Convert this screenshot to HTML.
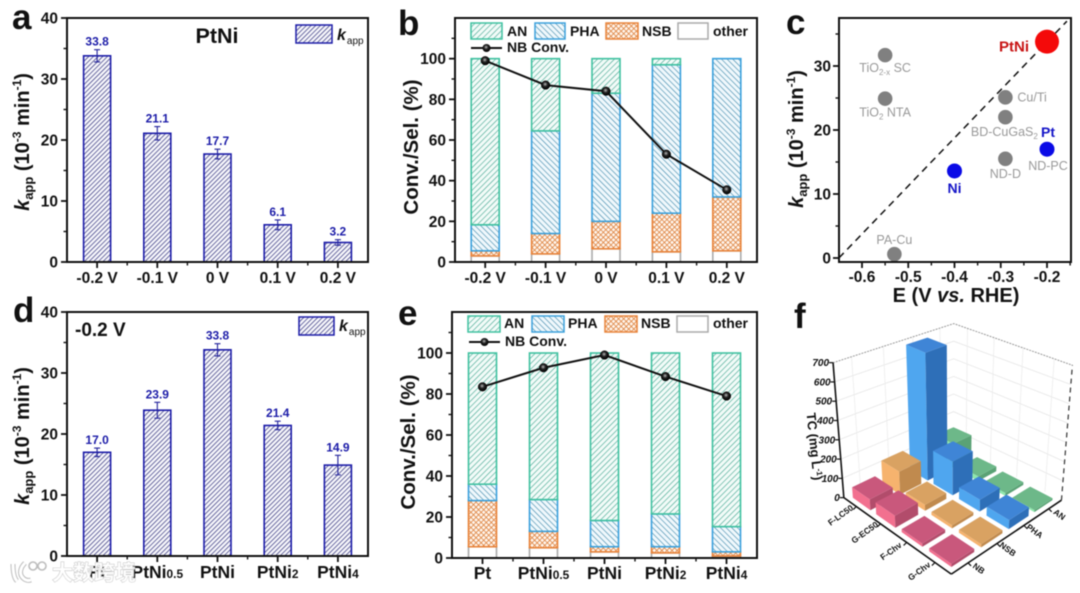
<!DOCTYPE html>
<html lang="en">
<head>
<meta charset="utf-8">
<title>PtNi catalyst performance panels</title>
<style>
html,body{margin:0;padding:0;background:#fff;width:1080px;height:593px;overflow:hidden}
svg{display:block;filter:blur(.45px);font-family:"Liberation Sans","Noto Sans CJK SC",sans-serif}
text{font-weight:bold;fill:#111}
</style>
</head>
<body>
<svg id="figure" xmlns="http://www.w3.org/2000/svg" width="1080" height="593" viewBox="0 0 1080 593">
<defs>
<pattern id="hatch-kapp" patternUnits="userSpaceOnUse" width="3.3" height="3.3" patternTransform="rotate(45)"><rect width="3.3" height="3.3" fill="#f6f6fb"/><line x1="0" y1="0" x2="0" y2="3.3" stroke="#33337c" stroke-width="1.4"/></pattern>
<pattern id="hatch-an" patternUnits="userSpaceOnUse" width="4" height="4" patternTransform="rotate(45)"><rect width="4" height="4" fill="#f2fbf8"/><line x1="0" y1="0" x2="0" y2="4" stroke="#3fa48e" stroke-width="1.2"/></pattern>
<pattern id="hatch-pha" patternUnits="userSpaceOnUse" width="4" height="4" patternTransform="rotate(-45)"><rect width="4" height="4" fill="#f0f8fc"/><line x1="0" y1="0" x2="0" y2="4" stroke="#3a85a8" stroke-width="1.2"/></pattern>
<pattern id="hatch-nsb" patternUnits="userSpaceOnUse" width="3.6" height="3.6" patternTransform="rotate(45)"><rect width="3.6" height="3.6" fill="#fff6ee"/><path d="M0 0V3.6M0 0H3.6" stroke="#dd8340" stroke-width="1.6"/></pattern>
<radialGradient id="marker-shine" cx="45%" cy="40%" r="60%"><stop offset="0" stop-color="#bbb"/><stop offset=".45" stop-color="#222"/><stop offset="1" stop-color="#000"/></radialGradient>
</defs>

<g>
<text x="12" y="29" style="font-size:35px">a</text>
<text x="398" y="35" style="font-size:35px">b</text>
<text x="786" y="34" style="font-size:35px">c</text>
<text x="13" y="322" style="font-size:35px">d</text>
<text x="398" y="325" style="font-size:35px">e</text>
<text x="794" y="328" style="font-size:35px">f</text>
</g>

<text transform="translate(29,142) rotate(-90)" text-anchor="middle" style="font-size:20px"><tspan font-style="italic">k</tspan><tspan font-size="13" dy="4">app</tspan><tspan dy="-4"> (10</tspan><tspan font-size="12" dy="-8">-3</tspan><tspan dy="8"> min</tspan><tspan font-size="12" dy="-8">-1</tspan><tspan dy="8">)</tspan></text>
<text x="217" y="43" text-anchor="middle" style="font-size:21.5px">PtNi</text>
<rect x="296" y="25" width="36" height="18" fill="url(#hatch-kapp)" stroke="#1c1ca8" stroke-width="1.5"/>
<text x="337" y="40" style="font-size:16px"><tspan font-style="italic">k</tspan><tspan font-size="10" dy="4" dx="1" style="font-weight:normal">app</tspan></text>

<text transform="translate(29,436) rotate(-90)" text-anchor="middle" style="font-size:20px"><tspan font-style="italic">k</tspan><tspan font-size="13" dy="4">app</tspan><tspan dy="-4"> (10</tspan><tspan font-size="12" dy="-8">-3</tspan><tspan dy="8"> min</tspan><tspan font-size="12" dy="-8">-1</tspan><tspan dy="8">)</tspan></text>
<text x="75" y="336" style="font-size:19px">-0.2 V</text>
<rect x="299" y="317" width="35" height="18" fill="url(#hatch-kapp)" stroke="#1c1ca8" stroke-width="1.5"/>
<text x="339" y="331" style="font-size:16px"><tspan font-style="italic">k</tspan><tspan font-size="10" dy="4" dx="1" style="font-weight:normal">app</tspan></text>

<text transform="translate(418,147) rotate(-90)" text-anchor="middle" style="font-size:20.5px">Conv./Sel. (%)</text>
<text transform="translate(415,442) rotate(-90)" text-anchor="middle" style="font-size:20.5px">Conv./Sel. (%)</text>

<g style="font-size:14px">
<rect x="471" y="23" width="31" height="16" fill="url(#hatch-an)" stroke="#3fc1a0" stroke-width="1.5"/>
<text x="507" y="36">AN</text>
<rect x="535" y="23" width="30" height="16" fill="url(#hatch-pha)" stroke="#3aa0dc" stroke-width="1.5"/>
<text x="570" y="36">PHA</text>
<rect x="606" y="23" width="32" height="16" fill="url(#hatch-nsb)" stroke="#e8833a" stroke-width="1.5"/>
<text x="642" y="36">NSB</text>
<rect x="678" y="23" width="30" height="16" fill="#fff" stroke="#aaa" stroke-width="1.5"/>
<text x="713" y="36">other</text>
<line x1="471" y1="48" x2="502" y2="48" stroke="#111" stroke-width="2"/>
<circle cx="486.5" cy="48" r="4" fill="url(#marker-shine)"/>
<text x="507" y="52">NB Conv.</text>
</g>

<g style="font-size:14px">
<rect x="468" y="316" width="32" height="16" fill="url(#hatch-an)" stroke="#3fc1a0" stroke-width="1.5"/>
<text x="504" y="328">AN</text>
<rect x="532" y="316" width="32" height="16" fill="url(#hatch-pha)" stroke="#3aa0dc" stroke-width="1.5"/>
<text x="568" y="328">PHA</text>
<rect x="605" y="316" width="32" height="16" fill="url(#hatch-nsb)" stroke="#e8833a" stroke-width="1.5"/>
<text x="641" y="328">NSB</text>
<rect x="677" y="316" width="31" height="16" fill="#fff" stroke="#aaa" stroke-width="1.5"/>
<text x="713" y="328">other</text>
<line x1="469" y1="342" x2="500" y2="342" stroke="#111" stroke-width="2"/>
<circle cx="484.5" cy="342" r="4" fill="url(#marker-shine)"/>
<text x="505" y="346">NB Conv.</text>
</g>

<text transform="translate(803,139) rotate(-90)" text-anchor="middle" style="font-size:20px"><tspan font-style="italic">k</tspan><tspan font-size="13" dy="4">app</tspan><tspan dy="-4"> (10</tspan><tspan font-size="12" dy="-8">-3</tspan><tspan dy="8"> min</tspan><tspan font-size="12" dy="-8">-1</tspan><tspan dy="8">)</tspan></text>
<text x="956" y="302" text-anchor="middle" style="font-size:20px">E (V <tspan font-style="italic">vs.</tspan> RHE)</text>

<text transform="translate(810,447) rotate(84)" text-anchor="middle" style="font-size:13px">TC (mg L<tspan font-size="8" dy="-4">-1</tspan><tspan dy="4">)</tspan></text>

<g id="charts"></g>

<g>
<path d="M13 564c0 8 1 14 4 17M25 563c-5 5-6 11-2 15 2 2 5 3 8 2" fill="none" stroke="#bdbdbd" stroke-width="5"/>
<path d="M13 564c0 8 1 14 4 17M25 563c-5 5-6 11-2 15 2 2 5 3 8 2" fill="none" stroke="#fff" stroke-width="3"/>
<circle cx="33" cy="566" r="4" fill="#fff" stroke="#bdbdbd" stroke-width="1.6"/>
<circle cx="42" cy="566" r="4" fill="#fff" stroke="#bdbdbd" stroke-width="1.6"/>
<text x="52" y="580" style="font-size:21px;font-weight:bold;fill:#fff;fill-opacity:.85;stroke:#c4c4c4;stroke-width:.9;paint-order:stroke">大数跨境</text>
</g>
</svg>

<script>
/* ---------- chart data ---------- */
const aCategories = ['-0.2 V', '-0.1 V', '0 V', '0.1 V', '0.2 V'];
const aValues = [33.8, 21.1, 17.7, 6.1, 3.2];
const aErrors = [1.0, 1.1, 0.8, 0.8, 0.45];
const dCategories = ['Pt', 'PtNi0.5', 'PtNi', 'PtNi2', 'PtNi4'];
const dValues = [17.0, 23.9, 33.8, 21.4, 14.9];
const dErrors = [0.7, 1.3, 1.0, 0.7, 1.6];
const kappTicks = [0, 10, 20, 30, 40];
const kappMinorTicks = [5, 15, 25, 35];

const bCategories = ['-0.2 V', '-0.1 V', '0 V', '0.1 V', '0.2 V'];
const bOther = [3, 4, 6.5, 5, 5.5];
const bNSB = [2.5, 10, 13.5, 19, 26.5];
const bPHA = [12.8, 50.5, 63, 73, 68];
const bAN = [81.7, 35.5, 17, 3, 0];
const bConv = [99, 87, 84, 53, 35.5];

const eCategories = ['Pt', 'PtNi0.5', 'PtNi', 'PtNi2', 'PtNi4'];
const eOther = [5.5, 5, 3, 2.5, 1];
const eNSB = [22.5, 8, 2.5, 3, 2];
const ePHA = [8, 15.5, 12.8, 16, 12.3];
const eAN = [64, 71.5, 81.7, 78.5, 84.7];
const eConv = [83.5, 92.8, 99, 88.5, 79];
const selTicks = [0, 20, 40, 60, 80, 100];
const selMinorTicks = [10, 30, 50, 70, 90, 110];

const cNames = ['TiO2-x SC', 'TiO2 NTA', 'Cu/Ti', 'BD-CuGaS2', 'ND-D', 'PA-Cu', 'ND-PC', 'Ni', 'PtNi'];
const cPotential = [-0.55, -0.55, -0.29, -0.29, -0.29, -0.53, -0.2, -0.4, -0.2];
const cRate = [31.7, 24.9, 25.1, 22, 15.5, 0.6, 17, 13.6, 33.8];
const cXTicks = [-0.6, -0.5, -0.4, -0.3, -0.2];
const cXMinorTicks = [-0.55, -0.45, -0.35, -0.25, -0.15];
const cYTicks = [0, 10, 20, 30];
const cYMinorTicks = [5, 15, 25, 35];
const cTrendE = [-0.65, -0.157];
const cTrendK = [0, 37];

const fCategories = ['G-Chv', 'F-Chv', 'G-EC50', 'F-LC50'];
const fSeries = ['NB', 'NSB', 'PHA', 'AN'];
const fNB = [15, 15, 60, 55];
const fNSB = [15, 15, 30, 120];
const fPHA = [45, 60, 175, 680];
const fAN = [10, 15, 25, 130];
const fZTicks = [0, 100, 200, 300, 400, 500, 600, 700];

/* ---------- helpers ---------- */
const NS = 'http://www.w3.org/2000/svg';
const root = document.getElementById('charts');
function mk(tag, attrs, parent, txt) {
  const n = document.createElementNS(NS, tag);
  for (const k in attrs) n.setAttribute(k, attrs[k]);
  if (txt !== undefined) n.textContent = txt;
  (parent || root).appendChild(n);
  return n;
}
function linear(d0, d1, r0, r1) { return v => r0 + (v - d0) / (d1 - d0) * (r1 - r0); }
function catLabel(parent, text, x, y, size, name) {
  const t = mk('text', { x: x, y: y, 'text-anchor': 'middle', style: 'font-size:' + size + 'px' }, parent);
  
  
  const m = text.match(/^(PtNi)([\d.]+)$/);
  if (m) {
    t.appendChild(document.createTextNode(m[1]));
    mk('tspan', { 'font-size': size * 0.68 }, t, m[2]);
  } else {
    t.textContent = text;
  }
}
function tick(parent, x1, y1, x2, y2, w, name) {
  const l = mk('line', { x1: x1, y1: y1, x2: x2, y2: y2, stroke: '#111', 'stroke-width': w }, parent);
  
  
}
/* frame + ticks for a category panel */
function catAxes(id, box, yS, yTicks, yMinor, cats, xAt, labelSize, labelY) {
  const g = mk('g', {});
  
  
  const frame = mk('rect', { x: box.l, y: box.t, width: box.r - box.l, height: box.b - box.t, fill: 'none', stroke: '#111', 'stroke-width': 2 }, g);
  
  
  yTicks.forEach(v => {
    tick(g, box.l - 6, yS(v), box.l, yS(v), 1.8, id + '-y-tick');
    const t = mk('text', { x: box.l - 9, y: yS(v) + 5.5, 'text-anchor': 'end', style: 'font-size:15.5px' }, g, String(v));
    
    
  });
  yMinor.forEach(v => tick(g, box.l - 3.5, yS(v), box.l, yS(v), 1.4, id + '-y-minor-tick'));
  cats.forEach((c, i) => {
    tick(g, xAt(i), box.b, xAt(i), box.b + 6, 1.8, id + '-x-tick');
    if (i < cats.length - 1) tick(g, xAt(i + 0.5), box.b, xAt(i + 0.5), box.b + 3.5, 1.4, id + '-x-minor-tick');
    catLabel(g, c, xAt(i), labelY, labelSize, id + '-x-tick-label');
  });
}
/* ---------- bar panels a, d ---------- */
function drawKapp(id, box, cats, vals, errs, labelSize, labelY) {
  const yS = linear(0, 40, box.b, box.t);
  const step = (box.r - box.l) / cats.length;
  const xAt = i => box.l + (i + 0.5) * step;
  const g = mk('g', {});
  
  
  vals.forEach((v, i) => {
    const bar = mk('rect', { x: xAt(i) - 13.5, y: yS(v), width: 27, height: yS(0) - yS(v), fill: 'url(#hatch-kapp)', stroke: '#1c1ca8', 'stroke-width': 1.6 }, g);
    
    
    const e = errs[i];
    const err = mk('path', { d: 'M' + (xAt(i) - 3) + ' ' + yS(v + e) + 'h6M' + xAt(i) + ' ' + yS(v + e) + 'V' + yS(v - e) + 'M' + (xAt(i) - 3) + ' ' + yS(v - e) + 'h6', fill: 'none', stroke: '#23239c', 'stroke-width': 1.1 }, g);
    
    
    const lab = mk('text', { x: xAt(i), y: yS(v + e) - 4, 'text-anchor': 'middle', style: 'font-size:12px;fill:#1c1ca8' }, g, v.toFixed(1));
    
    
  });
  catAxes(id, box, yS, kappTicks, kappMinorTicks, cats, xAt, labelSize, labelY);
}
/* ---------- stacked panels b, e ---------- */
function drawStack(id, box, cats, other, nsb, pha, an, conv, labelSize, labelY) {
  const yS = linear(0, 120, box.b, box.t);
  const step = (box.r - box.l) / cats.length;
  const xAt = i => box.l + (i + 0.5) * step;
  const g = mk('g', {});
  
  
  const layers = [
    { key: 'other', vals: other, fill: '#fff', stroke: '#aaa' },
    { key: 'nsb', vals: nsb, fill: 'url(#hatch-nsb)', stroke: '#e8833a' },
    { key: 'pha', vals: pha, fill: 'url(#hatch-pha)', stroke: '#3aa0dc' },
    { key: 'an', vals: an, fill: 'url(#hatch-an)', stroke: '#3fc1a0' }
  ];
  cats.forEach((c, i) => {
    let base = 0;
    layers.forEach(L => {
      const v = L.vals[i];
      if (v > 0) {
        const r = mk('rect', { x: xAt(i) - 14, y: yS(base + v), width: 28, height: yS(base) - yS(base + v), fill: L.fill, stroke: L.stroke, 'stroke-width': 1.6 }, g);
        
        
      }
      base += v;
    });
  });
  catAxes(id, box, yS, selTicks, selMinorTicks, cats, xAt, labelSize, labelY);
  const line = mk('polyline', { points: conv.map((v, i) => xAt(i) + ',' + yS(v)).join(' '), fill: 'none', stroke: '#111', 'stroke-width': 2 });
  
  
  conv.forEach((v, i) => {
    const m = mk('circle', { cx: xAt(i), cy: yS(v), r: 4.3, fill: 'url(#marker-shine)', stroke: '#000', 'stroke-width': 0.5 });
    
    
  });
}
/* ---------- scatter panel c ---------- */
function drawScatter() {
  const box = { l: 839, r: 1071, t: 18, b: 262 };
  const xS = linear(-0.6, -0.2, 862, 1047);
  const yS = linear(0, 30, 258, 66);
  const g = mk('g', {});
  
  
  const trend = mk('line', { x1: xS(cTrendE[0]), y1: yS(cTrendK[0]), x2: xS(cTrendE[1]), y2: yS(cTrendK[1]), stroke: '#111', 'stroke-width': 1.5, 'stroke-dasharray': '7 5' }, g);
  
  
  const style = {
    'Ni': { fill: '#0a0ae6', r: 7.5, text: '#1616c8', bold: 1, size: 14, dx: 0, dy: 22, anchor: 'middle' },
    'PtNi': { fill: '#f40a0a', r: 12, text: '#c81414', bold: 1, size: 15, dx: -18, dy: 10, anchor: 'end' },
    'ND-PC': { fill: '#0a0ae6', r: 7.5, text: '#999', size: 12.5, dx: 1, dy: 21, anchor: 'middle' },
    'TiO2-x SC': { dx: 0, dy: 17, anchor: 'middle' },
    'TiO2 NTA': { dx: 0, dy: 18, anchor: 'middle' },
    'Cu/Ti': { dx: 12, dy: 4, anchor: 'start' },
    'BD-CuGaS2': { dx: -1, dy: 19, anchor: 'middle' },
    'ND-D': { dx: 0, dy: 19, anchor: 'middle' },
    'PA-Cu': { dx: 0, dy: -10, anchor: 'middle' }
  };
  cNames.forEach((n, i) => {
    const s = style[n];
    const cx = xS(cPotential[i]), cy = yS(cRate[i]);
    const dot = mk('circle', { cx: cx, cy: cy, r: s.r || 7.3, fill: s.fill || '#808080' }, g);
    
    
    const t = mk('text', { x: cx + s.dx, y: cy + s.dy, 'text-anchor': s.anchor, style: 'font-size:' + (s.size || 12.5) + 'px;font-weight:' + (s.bold ? 'bold' : 'normal') + ';fill:' + (s.text || '#999') }, g);
    
    
    const m = n.match(/^(TiO|BD-CuGaS)(2(?:-x)?)(.*)$/);
    if (m) {
      t.appendChild(document.createTextNode(m[1]));
      mk('tspan', { 'font-size': 8, dy: 3 }, t, m[2]);
      mk('tspan', { dy: -3 }, t, m[3] || '\u200b');
    } else {
      t.textContent = n;
    }
    if (n === 'ND-PC') {
      const pt = mk('text', { x: cx + 1, y: cy - 12, 'text-anchor': 'middle', style: 'font-size:14px;fill:#1616c8' }, g, 'Pt');
      
      
    }
  });
  const frame = mk('rect', { x: box.l, y: box.t, width: box.r - box.l, height: box.b - box.t, fill: 'none', stroke: '#111', 'stroke-width': 2 }, g);
  
  
  cXTicks.forEach(v => {
    tick(g, xS(v), box.b, xS(v), box.b + 6, 1.8, 'panel-c-x-tick');
    const t = mk('text', { x: xS(v), y: 282, 'text-anchor': 'middle', style: 'font-size:15.5px' }, g, v.toFixed(1));
    
    
  });
  cXMinorTicks.forEach(v => tick(g, xS(v), box.b, xS(v), box.b + 3.5, 1.4, 'panel-c-x-minor-tick'));
  cYTicks.forEach(v => {
    tick(g, box.l - 6, yS(v), box.l, yS(v), 1.8, 'panel-c-y-tick');
    const t = mk('text', { x: box.l - 8, y: yS(v) + 5.5, 'text-anchor': 'end', style: 'font-size:15.5px' }, g, String(v));
    
    
  });
  cYMinorTicks.forEach(v => tick(g, box.l - 3.5, yS(v), box.l, yS(v), 1.4, 'panel-c-y-minor-tick'));
}
/* ---------- 3-D bar panel f ---------- */
function P(i, j, z) {
  const d = i + j;
  const f = 1 - 0.035 * d;
  let x = 951.7 + (-29.3 * i + 30 * j) * f;
  let y = 551.7 + (-20 * i - 19.3 * j) * f;
  const zf = z / 700;
  y -= zf * 135 * (1 - 0.02 * d) / 0.94;
  x += (x - 951.7) * 0.1 * zf;
  return [x, y];
}
function poly(pts) { return pts.map(p => p[0].toFixed(1) + ',' + p[1].toFixed(1)).join(' '); }
function draw3D() {
  const g = mk('g', {});
  
  
  const E = 3.55, S = -0.55;
  /* wall gridlines */
  fZTicks.forEach(z => {
    if (z === 0) return;
    const w = mk('polyline', { points: poly([P(E, S, z), P(E, E, z), P(S, E, z)]), fill: 'none', stroke: '#e6e6e6', 'stroke-width': 0.8 }, g);
    
    
  });
  fCategories.forEach((c, i) => {
    const l = mk('line', { x1: P(i, E, 0)[0], y1: P(i, E, 0)[1], x2: P(i, E, 700)[0], y2: P(i, E, 700)[1], stroke: '#ececec', 'stroke-width': 0.8 }, g);
    
    
  });
  fSeries.forEach((s, j) => {
    const l = mk('line', { x1: P(E, j, 0)[0], y1: P(E, j, 0)[1], x2: P(E, j, 700)[0], y2: P(E, j, 700)[1], stroke: '#ececec', 'stroke-width': 0.8 }, g);
    
    
  });
  const outline = mk('polyline', { points: poly([P(E, S, 700), P(E, E, 700), P(S, E, 700)]), fill: 'none', stroke: '#888', 'stroke-width': 0.9, 'stroke-dasharray': '1.5 1.5' }, g);
  
  
  const rightEdge = mk('line', { x1: P(S, E, 0)[0], y1: P(S, E, 0)[1], x2: P(S, E, 700)[0], y2: P(S, E, 700)[1], stroke: '#333', 'stroke-width': 1.2, 'stroke-dasharray': '5 4' }, g);
  
  

  /* bars, back to front */
  const seriesVals = [fNB, fNSB, fPHA, fAN];
  const colors = [
    { top: '#c9587c', left: '#f2708f', right: '#b24c6b' },
    { top: '#d9a262', left: '#f6b36e', right: '#c08a4e' },
    { top: '#3f85d6', left: '#4fa6ef', right: '#2e6fb8' },
    { top: '#6db889', left: '#8fe8ad', right: '#5aa275' }
  ];
  const order = [];
  fCategories.forEach((c, i) => fSeries.forEach((s, j) => order.push([i, j])));
  order.sort((p, q) => (q[0] + q[1]) - (p[0] + p[1]));
  const a = 0.38;
  order.forEach(o => {
    const i = o[0], j = o[1], z = seriesVals[j][i], col = colors[j];
    const b = mk('g', {}, g);
    
    
    mk('polygon', { points: poly([P(i - a, j - a, 0), P(i + a, j - a, 0), P(i + a, j - a, z), P(i - a, j - a, z)]), fill: col.left }, b);
    mk('polygon', { points: poly([P(i - a, j - a, 0), P(i - a, j + a, 0), P(i - a, j + a, z), P(i - a, j - a, z)]), fill: col.right }, b);
    mk('polygon', { points: poly([P(i - a, j - a, z), P(i + a, j - a, z), P(i + a, j + a, z), P(i - a, j + a, z)]), fill: col.top }, b);
  });

  /* axes */
  const zAxis = mk('line', { x1: P(E, S, 0)[0], y1: P(E, S, 0)[1], x2: P(E, S, 700)[0], y2: P(E, S, 700)[1], stroke: '#111', 'stroke-width': 1.6 }, g);
  
  
  const iAxis = mk('line', { x1: P(S, S, 0)[0], y1: P(S, S, 0)[1], x2: P(E, S, 0)[0], y2: P(E, S, 0)[1], stroke: '#111', 'stroke-width': 1.6 }, g);
  
  
  const jAxis = mk('line', { x1: P(S, S, 0)[0], y1: P(S, S, 0)[1], x2: P(S, E, 0)[0], y2: P(S, E, 0)[1], stroke: '#111', 'stroke-width': 1.6 }, g);
  
  
  fZTicks.forEach(z => {
    const p = P(E, S, z);
    tick(g, p[0] - 4, p[1], p[0], p[1], 1.2, 'panel-f-z-tick');
    const t = mk('text', { x: p[0] - 4, y: p[1] + 3.5, 'text-anchor': 'end', 'font-style': 'italic', style: 'font-size:10px' }, g, String(z));
    
    
  });
  fCategories.forEach((c, i) => {
    const p = P(i, S, 0);
    tick(g, p[0], p[1], p[0] - 3, p[1] + 3, 1.2, 'panel-f-category-tick');
    const t = mk('text', { transform: 'translate(' + (p[0] - 14) + ',' + (p[1] + 11) + ') rotate(-36)', 'text-anchor': 'middle', style: 'font-size:8.5px' }, g, c);
    
    
  });
  fSeries.forEach((s, j) => {
    const p = P(S, j, 0);
    tick(g, p[0], p[1], p[0] + 3, p[1] + 3, 1.2, 'panel-f-series-tick');
    const t = mk('text', { transform: 'translate(' + (p[0] + 9) + ',' + (p[1] + 8) + ') rotate(36)', 'text-anchor': 'middle', style: 'font-size:8.5px' }, g, s);
    
    
  });
}

drawKapp('panel-a', { l: 67, r: 368, t: 18, b: 262 }, aCategories, aValues, aErrors, 15.5, 283);
drawKapp('panel-d', { l: 67, r: 368, t: 312, b: 556 }, dCategories, dValues, dErrors, 17.5, 578);
drawStack('panel-b', { l: 455, r: 757, t: 18, b: 262 }, bCategories, bOther, bNSB, bPHA, bAN, bConv, 15.5, 283);
drawStack('panel-e', { l: 452, r: 757, t: 312, b: 558 }, eCategories, eOther, eNSB, ePHA, eAN, eConv, 17.5, 579);
drawScatter();
draw3D();
</script>
</body>
</html>
